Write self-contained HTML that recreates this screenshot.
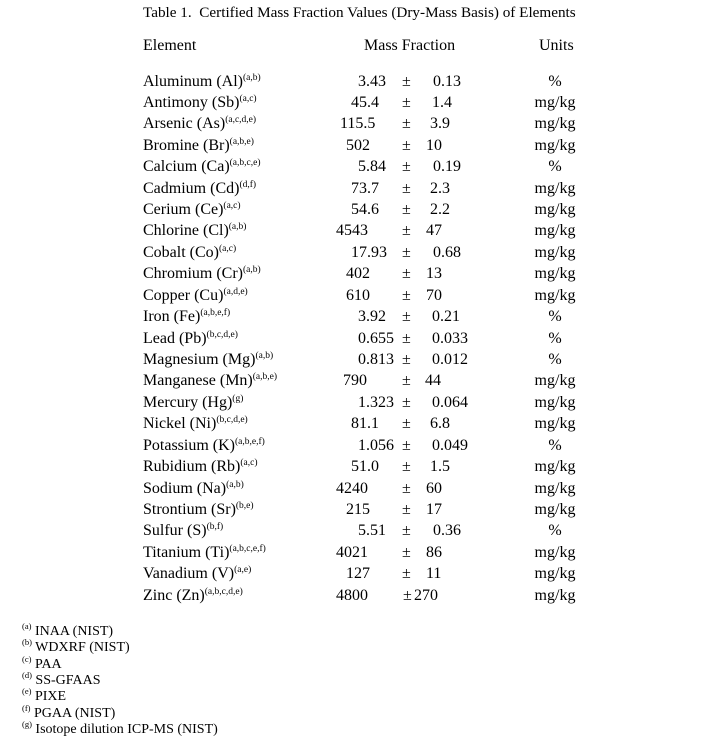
<!DOCTYPE html><html><head><style>
body{margin:0;width:710px;height:743px;background:#fff;font-family:"Liberation Serif",serif;color:#000;position:relative;overflow:hidden}
div{position:absolute;white-space:nowrap;font-size:16px;line-height:18px}
sup{font-size:9.5px;vertical-align:6px;line-height:0}
.u{width:80px;text-align:center;left:515px}
.f{font-size:14px;left:22px}
.f sup{font-size:8.5px}
</style></head><body>
<div style="left:143px;top:4px;font-size:15.2px">Table 1.&nbsp; Certified Mass Fraction Values (Dry-Mass Basis) of Elements</div>
<div style="left:143px;top:37px">Element</div>
<div style="left:364px;top:37px">Mass Fraction</div>
<div style="left:539px;top:37px">Units</div>
<script>
var r=[["Aluminum (Al)","a,b","3.43",358,"0.13",433,"%"],
["Antimony (Sb)","a,c","45.4",351,"1.4",432,"mg/kg"],
["Arsenic (As)","a,c,d,e","115.5",340,"3.9",430,"mg/kg"],
["Bromine (Br)","a,b,e","502",346,"10",426,"mg/kg"],
["Calcium (Ca)","a,b,c,e","5.84",358,"0.19",433,"%"],
["Cadmium (Cd)","d,f","73.7",351,"2.3",430,"mg/kg"],
["Cerium (Ce)","a,c","54.6",351,"2.2",430,"mg/kg"],
["Chlorine (Cl)","a,b","4543",336,"47",426,"mg/kg"],
["Cobalt (Co)","a,c","17.93",351,"0.68",433,"mg/kg"],
["Chromium (Cr)","a,b","402",346,"13",426,"mg/kg"],
["Copper (Cu)","a,d,e","610",346,"70",426,"mg/kg"],
["Iron (Fe)","a,b,e,f","3.92",358,"0.21",432,"%"],
["Lead (Pb)","b,c,d,e","0.655",358,"0.033",432,"%"],
["Magnesium (Mg)","a,b","0.813",358,"0.012",432,"%"],
["Manganese (Mn)","a,b,e","790",343,"44",425,"mg/kg"],
["Mercury (Hg)","g","1.323",358,"0.064",432,"mg/kg"],
["Nickel (Ni)","b,c,d,e","81.1",351,"6.8",430,"mg/kg"],
["Potassium (K)","a,b,e,f","1.056",358,"0.049",432,"%"],
["Rubidium (Rb)","a,c","51.0",351,"1.5",430,"mg/kg"],
["Sodium (Na)","a,b","4240",336,"60",426,"mg/kg"],
["Strontium (Sr)","b,e","215",346,"17",426,"mg/kg"],
["Sulfur (S)","b,f","5.51",358,"0.36",433,"%"],
["Titanium (Ti)","a,b,c,e,f","4021",336,"86",426,"mg/kg"],
["Vanadium (V)","a,e","127",346,"11",426,"mg/kg"],
["Zinc (Zn)","a,b,c,d,e","4800",336,"270",414,"mg/kg"]];
var h="";
r.forEach(function(x,i){var t=(72.5+i*21.42).toFixed(1);
h+='<div style="left:143px;top:'+t+'px">'+x[0]+'<sup>('+x[1]+')</sup></div>';
h+='<div style="left:'+x[3]+'px;top:'+t+'px">'+x[2]+'</div>';
h+='<div style="left:'+(i==24?403:402)+'px;top:'+t+'px">±</div>';
h+='<div style="left:'+x[5]+'px;top:'+t+'px">'+x[4]+'</div>';
h+='<div class="u" style="top:'+t+'px">'+x[6]+'</div>';});
var f=[["a","INAA (NIST)"],["b","WDXRF (NIST)"],["c","PAA"],["d","SS-GFAAS"],["e","PIXE"],["f","PGAA (NIST)"],["g","Isotope dilution ICP-MS (NIST)"]];
f.forEach(function(x,i){h+='<div class="f" style="top:'+(623+i*16.3).toFixed(1)+'px"><sup>('+x[0]+')</sup> '+x[1]+'</div>';});
document.write(h);
</script>
</body></html>
